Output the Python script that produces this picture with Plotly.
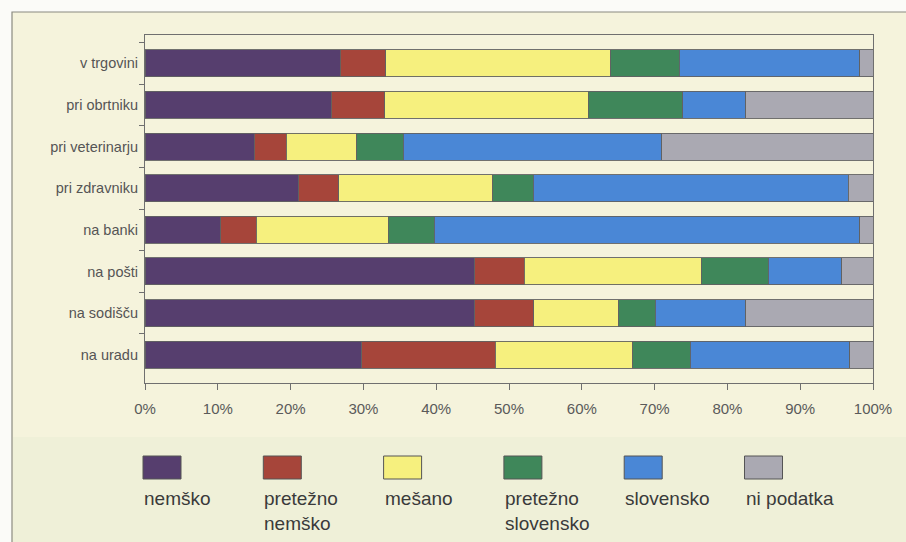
import plotly.graph_objects as go

# Language used in everyday situations (share of respondents, %)
categories = ["v trgovini", "pri obrtniku", "pri veterinarju", "pri zdravniku",
              "na banki", "na pošti", "na sodišču", "na uradu"]

series_names = ["nemško", "pretežno nemško", "mešano",
                "pretežno slovensko", "slovensko", "ni podatka"]
legend_labels = ["nemško", "pretežno<br>nemško", "mešano",
                 "pretežno<br>slovensko", "slovensko", "ni podatka"]

nemsko = [26.8, 25.6, 15.0, 21.1, 10.4, 45.3, 45.3, 29.8]
pretezno_nemsko = [6.3, 7.3, 4.4, 5.5, 4.9, 6.8, 8.1, 18.3]
mesano = [30.9, 28.0, 9.7, 21.2, 18.1, 24.3, 11.7, 18.9]
pretezno_slovensko = [9.4, 13.0, 6.4, 5.5, 6.3, 9.2, 5.0, 7.9]
slovensko = [24.8, 8.6, 35.5, 43.3, 58.5, 10.1, 12.4, 21.9]
ni_podatka = [1.8, 17.5, 29.0, 3.4, 1.8, 4.3, 17.5, 3.2]

x_ticks = [0, 10, 20, 30, 40, 50, 60, 70, 80, 90, 100]

colors = ["#563e6e", "#a6453a", "#f6f07e", "#3f875a", "#4a87d6", "#aaa9b2"]

values = [nemsko, pretezno_nemsko, mesano, pretezno_slovensko, slovensko, ni_podatka]

W, H = 906, 542
L, R, T, B = 145, 33, 35, 159
PW, PH = W - L - R, H - T - B


def px_x(px):
    return (px - L) / PW


def px_y(py):
    return (H - B - py) / PH


fig = go.Figure()
for name, vals, col in zip(series_names, values, colors):
    fig.add_trace(go.Bar(
        y=categories, x=vals, name=name, orientation="h",
        marker=dict(color=col, line=dict(color="#626262", width=0.9)),
        showlegend=False, hoverinfo="x+y+name",
    ))

# page panel with thin frame
fig.add_shape(type="rect", xref="paper", yref="paper",
              x0=px_x(12), x1=px_x(W + 5), y0=px_y(H + 5), y1=px_y(12),
              fillcolor="#f5f3dc", line=dict(color="#8a8a80", width=1.2),
              layer="below")
fig.add_shape(type="rect", xref="paper", yref="paper",
              x0=px_x(13), x1=px_x(W + 5), y0=px_y(H + 5), y1=px_y(437),
              fillcolor="#eff0d8", line=dict(width=0), layer="below")

# legend: swatch with label underneath
legend_x0, legend_step = 143, 120.3
for i, (lab, col) in enumerate(zip(legend_labels, colors)):
    x0 = legend_x0 + i * legend_step
    fig.add_shape(type="rect", xref="paper", yref="paper",
                  x0=px_x(x0), x1=px_x(x0 + 38), y0=px_y(479), y1=px_y(456),
                  fillcolor=col, line=dict(color="#555555", width=1))
    fig.add_annotation(xref="paper", yref="paper", x=px_x(x0 - 1), y=px_y(486),
                       text=lab, showarrow=False, xanchor="left", yanchor="top",
                       align="left",
                       font=dict(family="Liberation Sans, Arial, sans-serif",
                                 size=19, color="#3a3a3a"))

fig.update_layout(
    width=W, height=H, autosize=False,
    margin=dict(l=L, r=R, t=T, b=B, pad=0),
    barmode="stack", bargap=0.35,
    paper_bgcolor="#fbfbf8", plot_bgcolor="#f3f3f1",
    font=dict(family="Liberation Sans, Arial, sans-serif", color="#555555"),
    xaxis=dict(range=[0, 100], tickvals=x_ticks, ticktext=[f"{v}%" for v in x_ticks],
               showgrid=False, zeroline=False, showline=True, mirror=True,
               linecolor="#6f6f6f", linewidth=1.2, ticks="outside", ticklen=6,
               tickcolor="#6f6f6f", ticklabelstandoff=6,
               tickfont=dict(size=15, color="#5a5a5a")),
    yaxis=dict(categoryorder="array", categoryarray=categories,
               range=[7.68, -0.68], showgrid=False, zeroline=False,
               showline=True, mirror=True, linecolor="#6f6f6f", linewidth=1.2,
               ticks="outside", ticklen=5, tickcolor="#6f6f6f", tickson="boundaries",
               ticklabelstandoff=3,
               tickfont=dict(size=14.5, color="#555555")),
)

fig.write_html("out.html")
